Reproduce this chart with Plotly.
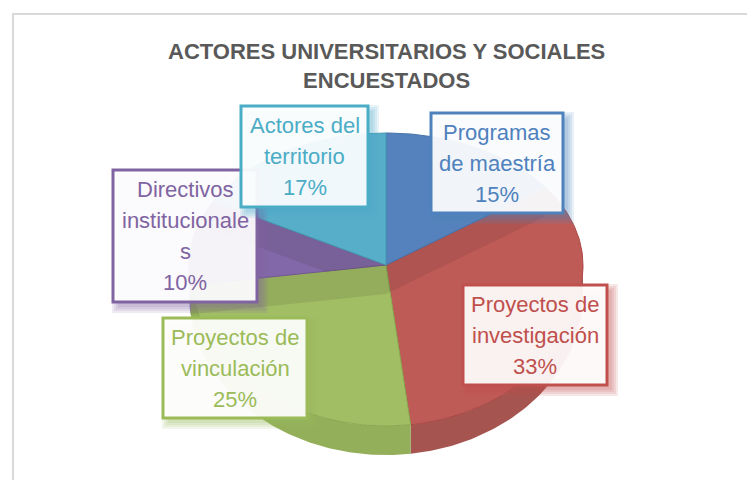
"""3D style pie of surveyed university and social actors."""

import math

import plotly.graph_objects as go

TITLE = "ACTORES UNIVERSITARIOS Y SOCIALES<br>ENCUESTADOS"
CATEGORIES = [
    "Programas<br>de maestría",
    "Proyectos de<br>investigación",
    "Proyectos de<br>vinculación",
    "Directivos<br>institucionale<br>s",
    "Actores del<br>territorio",
]
VALUES = [15, 33, 25, 10, 17]
COLORS = ["#4F81BD", "#C0504D", "#9BBB59", "#8064A2", "#4BACC6"]
FILLS = ["#5582BC", "#BF5B57", "#A1BE65", "#8268A8", "#57AEC9"]
WALL_COLORS = ["#46709F", "#A65450", "#93AF5A", "#6A5585", "#4290A8"]
EDGES = ["#4673AA", "#A94744", "#8AA84F", "#735A93", "#439AB2"]
# label box per slice: left, right, top, bottom
BOXES = [
    (431, 563, 113, 213),
    (463, 607, 285, 385),
    (163, 307, 318, 418),
    (113, 257, 170, 302),
    (241, 368, 106, 207),
]

CX, CY = 386, 265
RX, RY_TOP, RY_BOTTOM = 197, 132, 161
DEPTH = 29
LINE_PITCH = 31
FONT = "Liberation Sans, Arial, sans-serif"


def rim(angle):
    rad = math.radians(angle)
    ry = RY_TOP if math.cos(rad) > 0 else RY_BOTTOM
    return CX + RX * math.sin(rad), CY - ry * math.cos(rad)


def arc(start, end):
    n = max(2, int(abs(end - start)) + 1)
    return [rim(start + (end - start) * i / (n - 1)) for i in range(n)]


def slice_spans():
    spans, total, acc = [], sum(VALUES), 0
    for v in VALUES:
        spans.append((acc / total * 360, (acc + v) / total * 360))
        acc += v
    return spans


def add_poly(fig, pts, fill, dy=0, line=None):
    fig.add_trace(
        go.Scatter(
            x=[p[0] for p in pts],
            y=[p[1] + dy for p in pts],
            mode="lines",
            fill="toself",
            fillcolor=fill,
            line={"color": line or "rgba(0,0,0,0)", "width": 1},
            hoverinfo="skip",
            showlegend=False,
        )
    )


def add_wall(fig, i, span):
    start, end = max(span[0], 90), min(span[1], 270)
    if start >= end:
        return
    outer = arc(start, end)
    lower = [(x, y + DEPTH) for x, y in reversed(outer)]
    add_poly(fig, outer + lower + outer[:1], WALL_COLORS[i])


def wedge(span):
    return [(CX, CY)] + arc(*span) + [(CX, CY)]


spans = slice_spans()
fig = go.Figure()

for i, span in enumerate(spans):
    add_wall(fig, i, span)

add_poly(fig, wedge(spans[1]), FILLS[1], line=EDGES[1])
add_poly(fig, wedge(spans[2]), FILLS[2], line=EDGES[2])

# each upper slice throws a soft shadow on the slices below it
SHADOW = "rgba(40,30,30,0.10)"
add_poly(fig, wedge(spans[0]), SHADOW, dy=DEPTH)
add_poly(fig, wedge(spans[3]), SHADOW, dy=DEPTH)
add_poly(fig, wedge(spans[3]), FILLS[3], line=EDGES[3])
add_poly(fig, wedge(spans[4]), SHADOW, dy=DEPTH)
add_poly(fig, wedge(spans[0]), FILLS[0], line=EDGES[0])
add_poly(fig, wedge(spans[4]), FILLS[4], line=EDGES[4])

shapes = [
    # chart frame runs off the right and bottom of the picture
    dict(
        type="rect", x0=13, x1=790, y0=14, y1=520,
        line={"color": "#D9D9D9", "width": 2}, layer="below",
    )
]
annotations = [
    dict(
        x=386, y=66, xref="x", yref="y", text=TITLE, showarrow=False,
        font={"family": FONT, "size": 22, "color": "#595959", "weight": "bold"},
        align="center",
    )
]

for i, (cat, val, box) in enumerate(zip(CATEGORIES, VALUES, BOXES)):
    left, right, top, bottom = box
    # blurred drop shadow, built from stacked faint rects
    for grow in (6, 4, 2, 0):
        shapes.append(
            dict(
                type="rect", x0=left + 5 - grow, x1=right + 5 + grow,
                y0=top + 5 - grow, y1=bottom + 5 + grow,
                fillcolor=COLORS[i], opacity=0.13, line={"width": 0}, layer="above",
            )
        )
    shapes.append(
        dict(
            type="rect", x0=left, x1=right, y0=top, y1=bottom,
            fillcolor="rgba(255,255,255,0.92)",
            line={"color": COLORS[i], "width": 3}, layer="above",
        )
    )
    # one annotation per line: <br> spacing is tighter than the label's line pitch
    lines = cat.split("<br>") + [f"{val}%"]
    for j, line in enumerate(lines):
        annotations.append(
            dict(
                x=(left + right) / 2,
                y=(top + bottom) / 2 + (j - (len(lines) - 1) / 2) * LINE_PITCH,
                xref="x", yref="y", text=line, showarrow=False,
                font={"family": FONT, "size": 22, "color": COLORS[i]},
            )
        )

fig.update_layout(
    width=747,
    height=480,
    margin={"l": 0, "r": 0, "t": 0, "b": 0},
    paper_bgcolor="white",
    plot_bgcolor="white",
    showlegend=False,
    shapes=shapes,
    annotations=annotations,
)
fig.update_xaxes(range=[0, 747], visible=False, fixedrange=True)
fig.update_yaxes(range=[480, 0], visible=False, fixedrange=True)

fig.write_html(
    "out.html",
    config={"displayModeBar": False},
    post_script="document.body.style.margin = '0';",
)
